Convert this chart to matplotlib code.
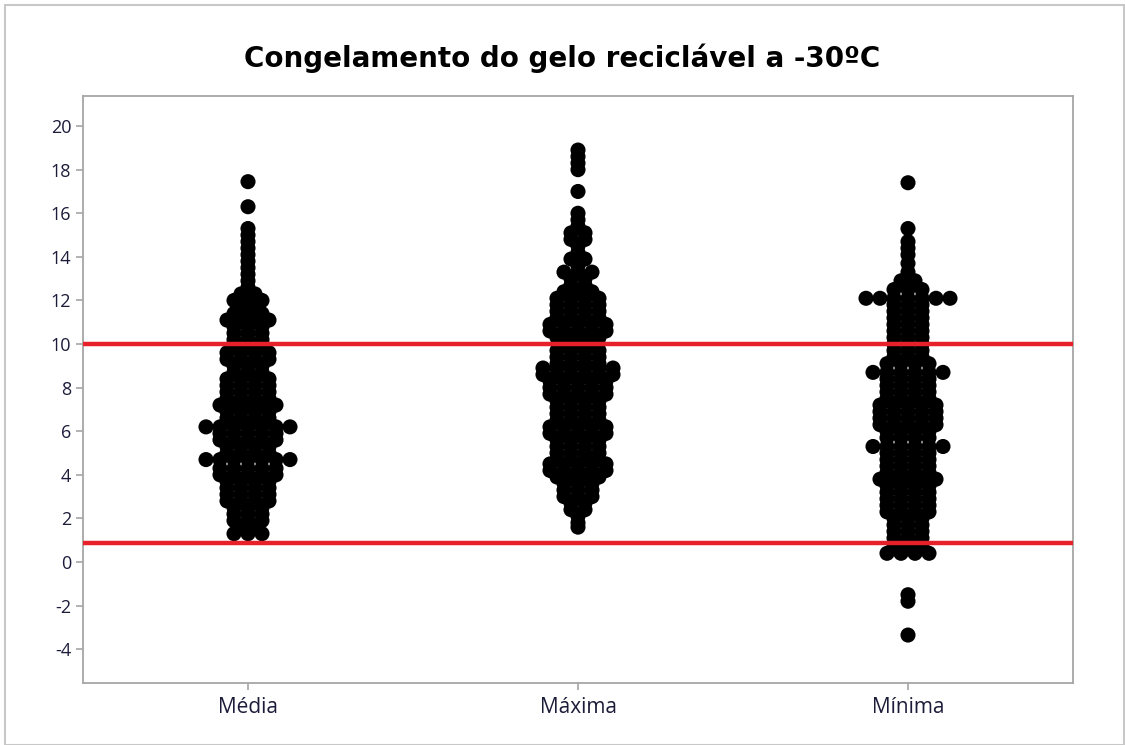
import numpy as np
import matplotlib
matplotlib.use("Agg")
from matplotlib import pyplot as plt
from matplotlib.patches import Rectangle

categories = ["Média", "Máxima", "Mínima"]

# dot plot rows: value level and number of dots side by side at that level
media_vals = [17.45, 16.3, 15.3, 15.0, 14.7, 14.4, 14.1, 13.8, 13.5, 13.2, 12.9, 12.6,
              12.3, 12.0, 11.7, 11.4, 11.1, 10.8, 10.5, 10.2, 9.9, 9.6, 9.3, 9.0, 8.7,
              8.4, 8.1, 7.8, 7.5, 7.2, 6.9, 6.6, 6.2, 5.9, 5.6, 5.3, 5.0, 4.7, 4.3, 4.0,
              3.7, 3.4, 3.1, 2.8, 2.5, 2.2, 1.9, 1.6, 1.3]
media_counts = [1, 1, 1, 1, 1, 1, 1, 1, 1, 1, 1, 1,
                2, 3, 2, 3, 4, 3, 3, 3, 3, 4, 4, 3, 3,
                4, 4, 4, 4, 5, 4, 4, 7, 5, 5, 4, 4, 7, 5, 5,
                4, 4, 4, 4, 3, 3, 3, 2, 3]

maxima_vals = [18.9, 18.6, 18.3, 18.0, 17.0, 16.0, 15.7, 15.4, 15.1, 14.8, 14.5, 14.2,
               13.9, 13.6, 13.3, 13.0, 12.7, 12.4, 12.1, 11.8, 11.5, 11.2, 10.9, 10.6,
               10.3, 10.0, 9.7, 9.4, 9.1, 8.9, 8.6, 8.3, 8.0, 7.7, 7.4, 7.1, 6.8, 6.5,
               6.2, 5.9, 5.6, 5.3, 5.0, 4.7, 4.5, 4.2, 3.9, 3.6, 3.3, 3.0, 2.7, 2.4,
               2.1, 1.8, 1.6]
maxima_counts = [1, 1, 1, 1, 1, 1, 1, 1, 2, 2, 1, 1,
                 2, 1, 3, 2, 2, 3, 4, 4, 4, 4, 5, 5,
                 4, 3, 4, 4, 4, 6, 6, 5, 5, 5, 4, 4, 4, 4,
                 5, 5, 4, 4, 4, 4, 5, 5, 4, 3, 3, 3, 2, 2,
                 1, 1, 1]

minima_vals = [17.4, 15.3, 14.7, 14.4, 14.1, 13.7, 13.3, 12.9, 12.5, 12.1, 11.8, 11.5,
               11.2, 10.9, 10.6, 10.3, 10.0, 9.7, 9.4, 9.1, 8.7, 8.4, 8.1, 7.8, 7.5,
               7.2, 6.9, 6.6, 6.3, 6.0, 5.7, 5.3, 5.0, 4.7, 4.4, 4.1, 3.8, 3.5, 3.2,
               2.9, 2.6, 2.3, 2.0, 1.7, 1.4, 1.1, 0.8, 0.6, 0.4, -1.5, -1.8, -3.35]
minima_counts = [1, 1, 1, 1, 1, 1, 1, 2, 3, 7, 3, 3,
                 3, 3, 3, 3, 3, 3, 3, 4, 6, 4, 4, 4, 4,
                 5, 5, 5, 5, 4, 4, 6, 4, 4, 4, 4, 5, 4, 4,
                 4, 4, 4, 3, 3, 3, 3, 3, 3, 4, 1, 1, 1]

limits = [10.0, 0.85]
yticks = list(range(-4, 21, 2))

fig = plt.figure(figsize=(11.25, 7.45), dpi=100)
ax = fig.add_axes([83 / 1125, 1 - 683 / 745, 990 / 1125, 587 / 745])

spacing = 14 / 330  # horizontal distance between neighbouring dots
series = [(media_vals, media_counts), (maxima_vals, maxima_counts), (minima_vals, minima_counts)]
for i, (vals, counts) in enumerate(series):
    xs, ys = [], []
    for v, n in zip(vals, counts):
        offs = (np.arange(n) - (n - 1) / 2) * spacing
        xs.extend(i + 1 + offs)
        ys.extend([v] * n)
    ax.scatter(xs, ys, s=118, color="black", edgecolors="none", zorder=2)

for lim in limits:
    ax.axhline(lim, color="#e8202a", linewidth=3.2, zorder=3)

ax.set_xlim(0.5, 3.5)
ax.set_ylim(-5.55, 21.38)
ax.set_xticks([1, 2, 3])
ax.set_xticklabels(categories)
ax.set_yticks(yticks)
ax.set_yticklabels([str(t) for t in yticks])
for sp in ax.spines.values():
    sp.set_color("#a6a6a6")
    sp.set_linewidth(1.3)
ax.tick_params(colors="#a6a6a6", length=5, width=1.2, labelcolor="#1c1c3a",
               labelsize=13)
for lab in ax.get_xticklabels() + ax.get_yticklabels():
    lab.set_family("Open Sans")
ax.tick_params(axis="x", labelsize=15, pad=5)

fig.text(0.5, 1 - 58 / 745, "Congelamento do gelo reciclável a -30ºC", ha="center",
         va="center", fontsize=20, fontweight="bold", family="DejaVu Sans")

fig.patches.append(Rectangle((5 / 1125, 0), 1119 / 1125, 740 / 745, transform=fig.transFigure,
                             fill=False, edgecolor="#c8c8c8", linewidth=1.5))

fig.savefig("out.png", dpi=100)
